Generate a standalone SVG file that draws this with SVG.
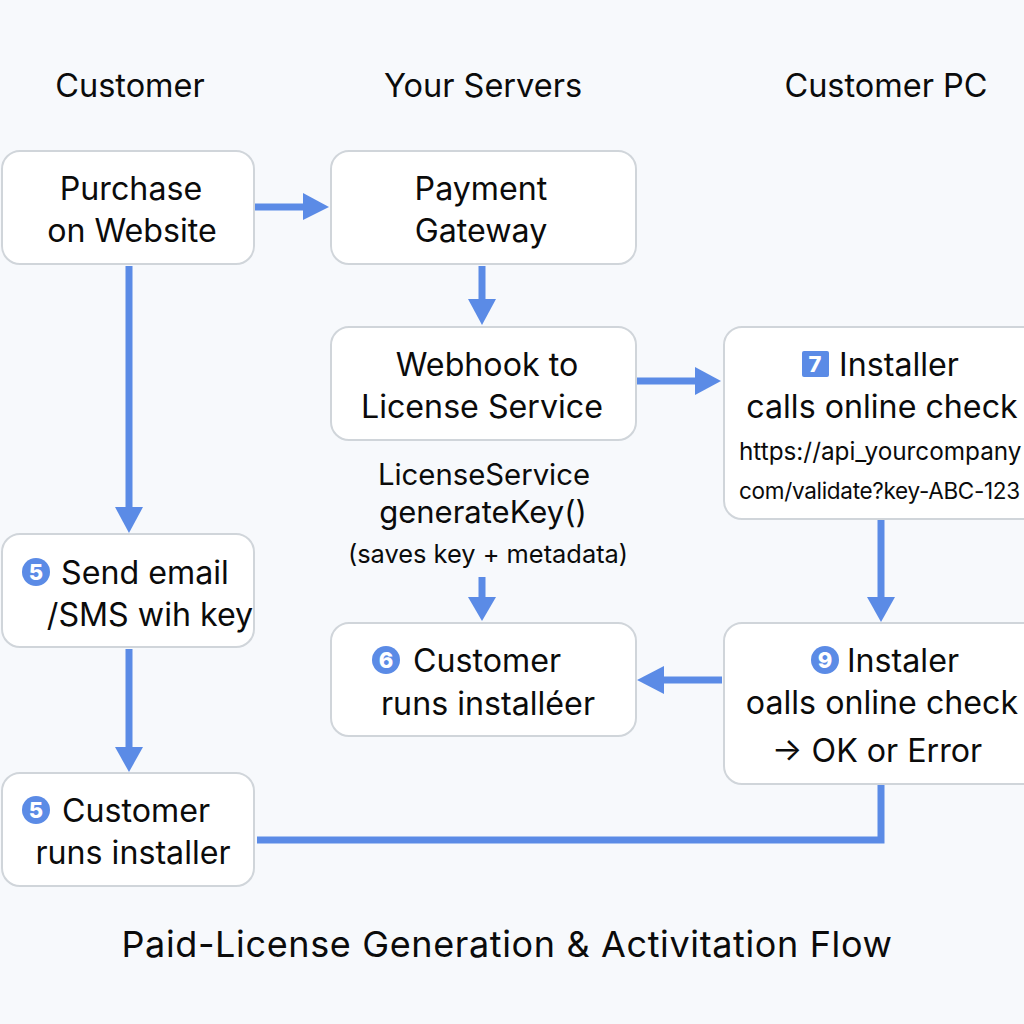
<svg xmlns="http://www.w3.org/2000/svg" width="1024" height="1024" viewBox="0 0 1024 1024">
<style>
text{font-family:"Inter","Liberation Sans",sans-serif;fill:#0b0b0b}
.b{fill:#fff;stroke:#d0d5da;stroke-width:2}
.m{font-size:32.200px;text-anchor:middle}
.h{font-size:32.500px;text-anchor:middle}
.s{font-size:24.300px}
.w{fill:none;stroke:#5b8be6;stroke-width:7}
.a{fill:#5b8be6}
.n{fill:#5b8be6}
.d{font-size:22px;font-weight:800;text-anchor:middle;fill:#fff}
</style>
<rect width="1024" height="1024" fill="#f7f9fc"/>
<g id="headers">
<text class="h" x="130" y="97">Customer</text>
<text class="h" x="483" y="97">Your Servers</text>
<text class="h" x="886" y="97">Customer PC</text>
</g>
<g id="connectors">
<path class="w" d="M255 207H304"/><path class="a" d="M303 193L329 207L303 220Z"/>
<path class="w" d="M482 266V300"/><path class="a" d="M468 299H496L482 325Z"/>
<path class="w" d="M637 381H696"/><path class="a" d="M695 367L721 381L695 395Z"/>
<path class="w" d="M129 266V508"/><path class="a" d="M115 507H143L129 533Z"/>
<path class="w" d="M129 649V747"/><path class="a" d="M115 747H143L129 772Z"/>
<path class="w" d="M482 577V597"/><path class="a" d="M468 597H496L482 621Z"/>
<path class="w" d="M881 520V597"/><path class="a" d="M867 597H895L881 622Z"/>
<path class="w" d="M722 680H664"/><path class="a" d="M664 666V694L637 680Z"/>
<path class="w" d="M257 840H881V785"/>
</g>
<g id="n1"><rect class="b" x="2" y="151" width="252" height="113" rx="18"/>
<text class="m" x="131" y="200">Purchase</text><text class="m" x="132" y="242">on Website</text></g>
<g id="n2"><rect class="b" x="331" y="151" width="305" height="113" rx="18"/>
<text class="m" x="481" y="200">Payment</text><text class="m" x="481" y="242">Gateway</text></g>
<g id="n3"><rect class="b" x="331" y="327" width="305" height="113" rx="18"/>
<text class="m" x="487" y="376">Webhook to</text><text class="m" x="482" y="418">License Service</text></g>
<g id="n4"><rect class="b" x="724" y="327" width="320" height="192" rx="18"/>
<rect class="n" x="802" y="351" width="27" height="26" rx="2"/><text class="d" x="815" y="372">7</text>
<text class="m" x="899" y="376">Installer</text><text class="m" x="882" y="418">calls online check</text>
<text class="s" x="739" y="460">https://api_yourcompany</text><text x="739" y="499" style="font-size:22.500px;letter-spacing:-0.300px">com/validate?key-ABC-123</text></g>
<g id="n5"><text class="m" x="484" y="485" style="font-size:29.300px">LicenseService</text>
<text class="m" x="483" y="523" style="font-size:31px">generateKey()</text>
<text x="488" y="563" style="font-size:25.400px;text-anchor:middle">(saves key + metadata)</text></g>
<g id="n6"><rect class="b" x="2" y="534" width="252" height="113" rx="18"/>
<circle class="n" cx="36" cy="572" r="14"/><text class="d" x="36" y="580">5</text>
<text class="m" x="145" y="584">Send email</text><text class="m" x="150" y="626">/SMS wih key</text></g>
<g id="n7"><rect class="b" x="331" y="623" width="305" height="113" rx="18"/>
<circle class="n" cx="386" cy="660" r="14"/><text class="d" x="386" y="668">6</text>
<text class="m" x="487" y="672">Customer</text><text class="m" x="488" y="715">runs installéer</text></g>
<g id="n8"><rect class="b" x="724" y="623" width="320" height="161" rx="18"/>
<circle class="n" cx="825" cy="660" r="14"/><text class="d" x="825" y="668">9</text>
<text class="m" x="903" y="672">Instaler</text><text class="m" x="882" y="714">oalls online check</text>
<text class="m" x="877" y="762">→ OK or Error</text></g>
<g id="n9"><rect class="b" x="2" y="773" width="252" height="113" rx="18"/>
<circle class="n" cx="36" cy="810" r="14"/><text class="d" x="36" y="818">5</text>
<text class="m" x="136" y="822">Customer</text><text class="m" x="133" y="864">runs installer</text></g>
<g id="title"><text class="h" x="507" y="957" style="font-size:36px;letter-spacing:0.630px">Paid-License Generation &amp; Activitation Flow</text></g>
</svg>
